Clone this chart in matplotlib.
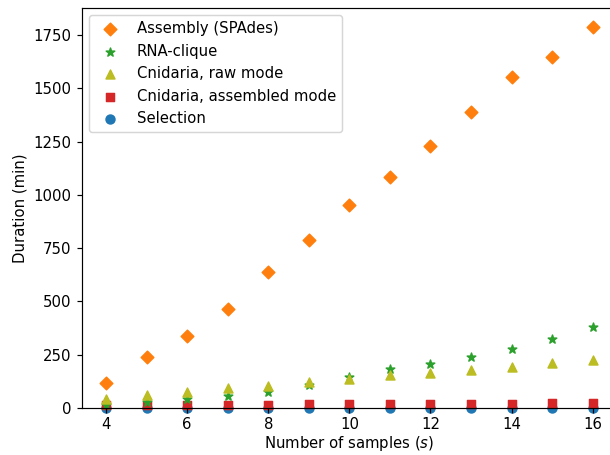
import numpy as np
from matplotlib import pyplot as plt

samples = np.arange(4, 17)

assembly = [117, 240, 338, 465, 638, 788, 953, 1084, 1230, 1389, 1553, 1647, 1788]
rna_clique = [15, 28, 42, 58, 77, 108, 144, 181, 205, 238, 275, 322, 379]
raw_mode = [42, 61, 77, 92, 105, 124, 136, 155, 166, 178, 194, 210, 225]
assembled_mode = [12, 13, 14, 15, 16, 17, 18, 18, 19, 20, 21, 22, 23]
selection = [1, 1, 1, 1, 1, 1, 1, 1, 1, 1, 1, 1, 1]

DPI = 107
fig = plt.figure(figsize=(610 / DPI, 455 / DPI), dpi=DPI)
ax = fig.add_axes([81.7 / 610, 47 / 455, (617 - 81.7) / 610, (408 - 8) / 455])

h_sel = ax.scatter(samples, selection, marker='o', color='C0', label='Selection', clip_on=False)
h_asm = ax.scatter(samples, assembled_mode, marker='s', color='C3',
                   label='Cnidaria, assembled mode', clip_on=False)
h_rna = ax.scatter(samples, rna_clique, marker='*', color='C2', label='RNA-clique', clip_on=False)
h_raw = ax.scatter(samples, raw_mode, marker='^', color='C8',
                   label='Cnidaria, raw mode', clip_on=False)
h_spa = ax.scatter(samples, assembly, marker='D', color='C1',
                   label='Assembly (SPAdes)', clip_on=False)

ax.set_ylim(bottom=0)
ax.set_xlabel('Number of samples ($s$)', labelpad=1.5)
ax.set_ylabel('Duration (min)')
ax.tick_params(axis='x', pad=2.5)
ax.legend(handles=[h_spa, h_rna, h_raw, h_asm, h_sel], loc='upper left')

fig.savefig('out.png', dpi=DPI)
